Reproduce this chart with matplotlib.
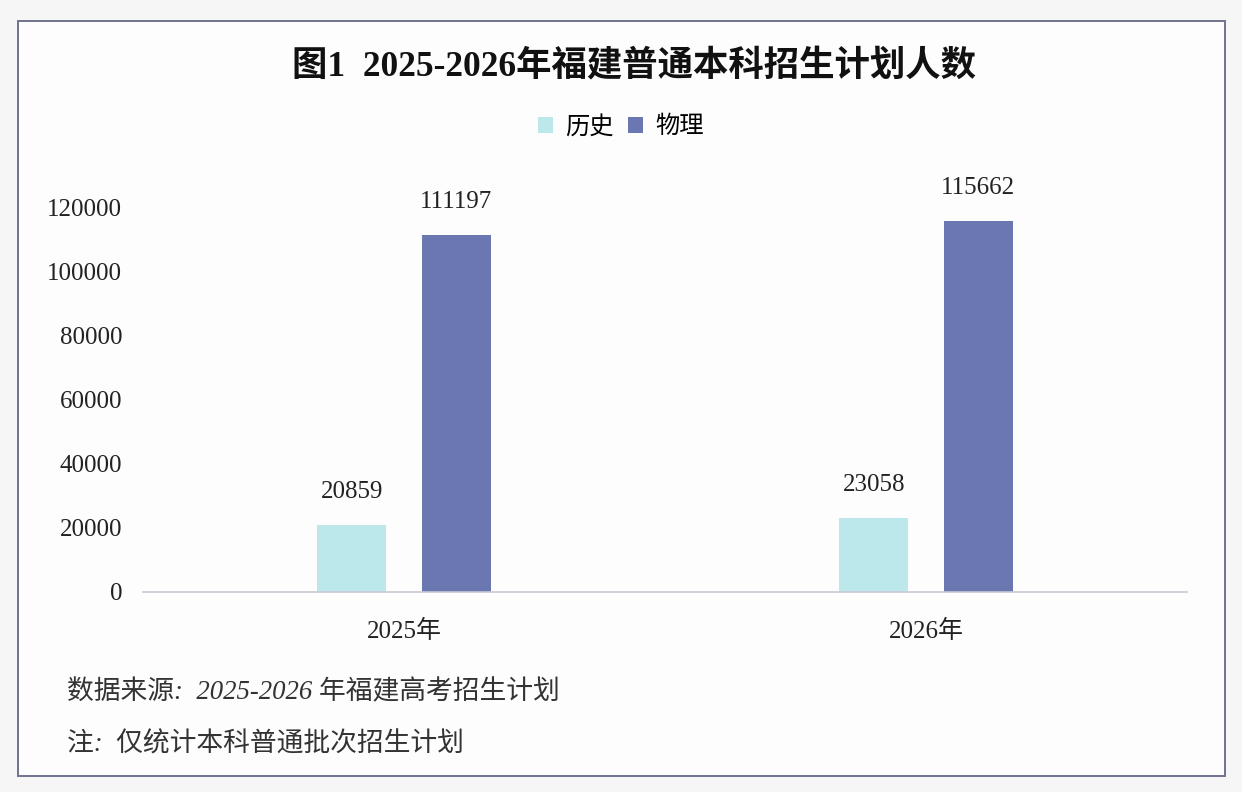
import numpy as np
import matplotlib.pyplot as plt
from matplotlib.patches import Rectangle

plt.rcParams['font.family'] = ['Liberation Serif', 'Noto Sans CJK SC', 'DejaVu Sans']

years = ['2025年', '2026年']
history = [20859, 23058]
physics = [111197, 115662]
series_names = ['历史', '物理']
colors = ['#bde8eb', '#6b77b0']

W, H = 1242, 792
fig = plt.figure(figsize=(W / 100, H / 100), dpi=100, facecolor='#f6f6f7')

# frame around the chart area
fig.patches.append(Rectangle((18 / W, 1 - 776 / H), (1225 - 18) / W, (776 - 21) / H,
                             transform=fig.transFigure, facecolor='#fdfdfe',
                             edgecolor='#70738f', linewidth=1.4, zorder=-10))

ax = fig.add_axes([143 / W, 1 - 592 / H, 1044 / W, 385 / H])
ax.set_facecolor('none')

ind = np.arange(len(years))
width = 0.132
off = 0.10
rects1 = ax.bar(ind - off, history, width, color=colors[0], label=series_names[0])
rects2 = ax.bar(ind + off, physics, width, color=colors[1], label=series_names[1])

for rects in (rects1, rects2):
    for r in rects:
        h = r.get_height()
        ax.annotate('%d' % h, (r.get_x() + r.get_width() / 2, h),
                    xytext=(0, 16), textcoords='offset points',
                    ha='center', va='bottom', fontsize=18, color='#222222',
                    annotation_clip=False)

ax.set_xlim(-0.5, 1.5)
ax.set_ylim(0, 120000)
ax.set_yticks(np.arange(0, 120001, 20000))
ax.set_xticks(ind)
ax.set_xticklabels(years)
ax.tick_params(axis='y', length=0, labelsize=18, pad=15, labelcolor='#222222')
ax.tick_params(axis='x', length=0, labelsize=18, pad=20, labelcolor='#222222')
for s in ['top', 'right', 'left']:
    ax.spines[s].set_visible(False)
ax.spines['bottom'].set_color('#c9cad3')
ax.spines['bottom'].set_linewidth(1.2)

fig.text(634 / W, 1 - 66 / H, '图1  2025-2026年福建普通本科招生计划人数',
         ha='center', va='center', fontsize=25.5, fontweight='bold', color='#111111')

fig.legend(loc='center', bbox_to_anchor=(621 / W, 1 - 127 / H), ncol=2, frameon=False,
           fontsize=17.5, handlelength=0.6, handleheight=0.6, handletextpad=0.5,
           columnspacing=0.6)

fig.text(67 / W, 1 - 693 / H, '数据来源:  2025-2026 年福建高考招生计划',
         ha='left', va='center', fontsize=19.3, style='italic', color='#333333')
fig.text(67 / W, 1 - 745 / H, '注:  仅统计本科普通批次招生计划',
         ha='left', va='center', fontsize=19.3, style='italic', color='#333333')

plt.savefig('out.png', dpi=100, facecolor=fig.get_facecolor())
plt.close()
